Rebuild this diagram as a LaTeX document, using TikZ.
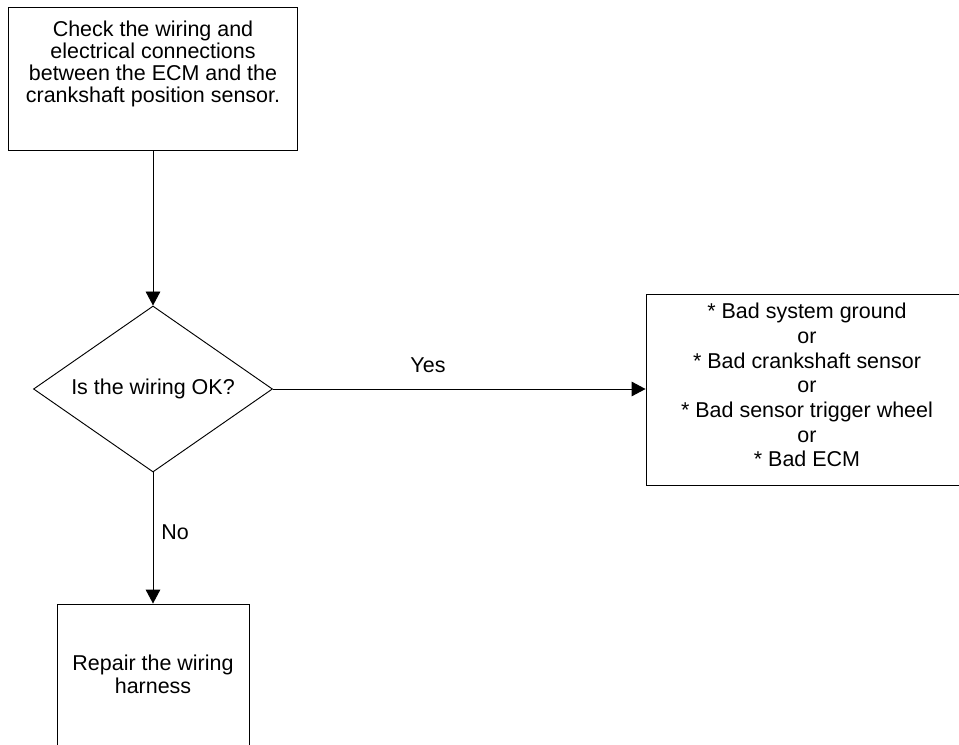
\documentclass[tikz,border=0pt]{standalone}
\usepackage{fontspec}
\setmainfont{Liberation Sans}
\usetikzlibrary{arrows.meta,shapes.geometric}
\tikzset{
  box/.style={draw, line width=0.7pt, inner sep=0pt, align=center},
  txt/.style={align=center, inner sep=0pt},
  flow/.style={line width=0.7pt, -{Triangle[length=10.5pt,width=11pt]}}
}
\begin{document}
\begin{tikzpicture}[x=0.75pt,y=-0.75pt,font=\fontsize{16.1}{16.3}\selectfont]
 \path[use as bounding box, clip] (0,0) rectangle (959,745);
 \node [box, minimum width=216.75pt, minimum height=107.25pt] (check) at (153,78.5) {};
 \node [txt] (checktext) at (153,64) {Check the wiring and\\electrical connections\\between the ECM and the\\crankshaft position sensor.};
 \node [draw, diamond, aspect=1.44, line width=0.7pt, inner sep=0pt, minimum width=179.25pt, minimum height=124.5pt] (wiring) at (153,389) {Is the wiring OK?};
 \node [box, minimum width=241.5pt, minimum height=143.25pt] (causes) at (807,389.5) {};
 \node [txt, font=\fontsize{16.1}{18.5}\selectfont] (causestext) at (807,385) {* Bad system ground\\or\\* Bad crankshaft sensor\\or\\* Bad sensor trigger wheel\\or\\* Bad ECM};
 \node [box, minimum width=144pt, minimum height=107.25pt] (repair) at (153,675.5) {};
 \node [txt, font=\fontsize{16.1}{17.5}\selectfont] (repairtext) at (153,674) {Repair the wiring\\harness};
 \draw [flow] (check) -- (wiring);
 \draw [flow] (wiring) -- (wiring -| causes.west);
 \draw [flow] (wiring) -- (repair);
 \node (yes) at (428,365) {Yes};
 \node (no) at (175,532) {No};
\end{tikzpicture}
\end{document}
